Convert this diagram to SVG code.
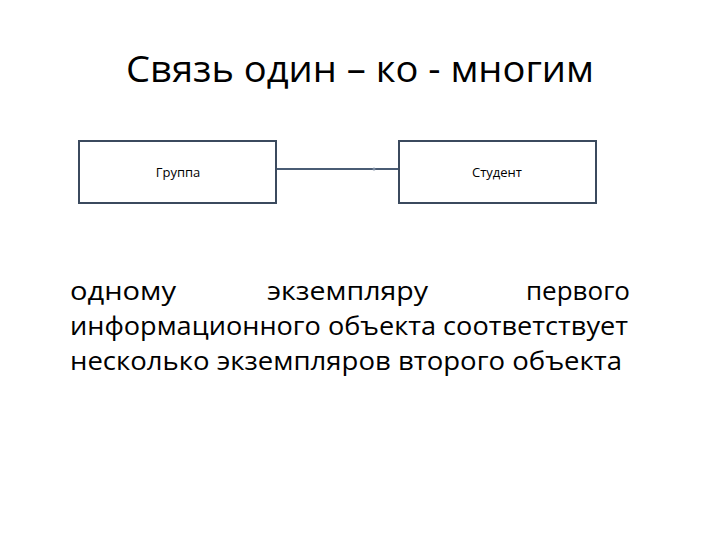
<svg xmlns="http://www.w3.org/2000/svg" width="720" height="540" viewBox="0 0 720 540">
<style>
text{font-family:"Open Sans","Liberation Sans",sans-serif;fill:#000}
.box{fill:#fff;stroke:#3b4a5e;stroke-width:2}
.lbl{font-size:13px;text-anchor:middle}
.body{font-size:26px}
.conn{stroke:#4a5c74;stroke-width:2;fill:none}
</style>
<rect width="720" height="540" fill="#fff"/>
<text x="360" y="82" font-size="36" text-anchor="middle" textLength="468" lengthAdjust="spacingAndGlyphs">Связь один – ко - многим</text>
<g id="connectors">
<line class="conn" x1="277" y1="169" x2="399" y2="169"/>
<circle cx="374" cy="169" r="1.5" fill="#7a8aa0"/>
</g>
<g id="group">
<rect class="box" x="79" y="141" width="197" height="62"/>
<text class="lbl" x="178" y="177">Группа</text>
</g>
<g id="student">
<rect class="box" x="399" y="141" width="197" height="62"/>
<text class="lbl" x="497" y="177">Студент</text>
</g>
<text class="body" x="70" y="300" textLength="106" lengthAdjust="spacingAndGlyphs">одному</text>
<text class="body" x="267" y="300" textLength="161" lengthAdjust="spacingAndGlyphs">экземпляру</text>
<text class="body" x="630" y="300" text-anchor="end">первого</text>
<text class="body" x="70" y="335" textLength="558" lengthAdjust="spacingAndGlyphs">информационного объекта соответствует</text>
<text class="body" x="70" y="370" textLength="552" lengthAdjust="spacingAndGlyphs">несколько экземпляров второго объекта</text>
</svg>
